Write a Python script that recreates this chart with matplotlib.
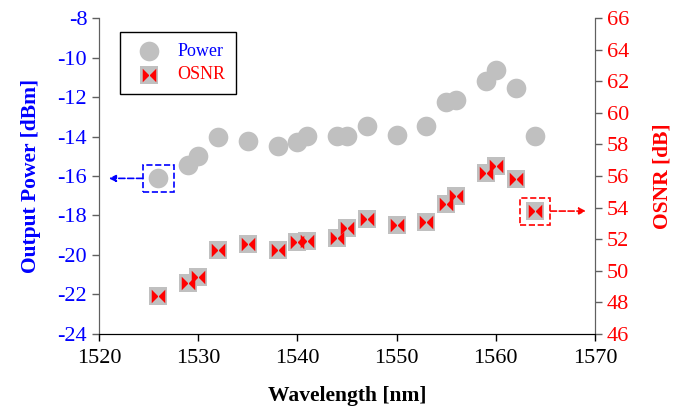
import matplotlib
matplotlib.use("Agg")
import numpy as np
from matplotlib import pyplot as plt
from matplotlib.path import Path
from matplotlib.patches import Rectangle

plt.rcParams["font.family"] = ["Liberation Serif", "DejaVu Serif"]
plt.rcParams["font.size"] = 14
plt.rcParams["axes.unicode_minus"] = False

# data
wavelength = [1526, 1529, 1530, 1532, 1535, 1538, 1540, 1541, 1544, 1545,
              1547, 1550, 1553, 1555, 1556, 1559, 1560, 1562, 1564]
power = [-16.12, -15.44, -14.97, -14.01, -14.21, -14.46, -14.26, -13.97, -13.96, -13.96,
         -13.45, -13.9, -13.47, -12.24, -12.15, -11.17, -10.63, -11.56, -13.96]
osnr = [48.4, 49.25, 49.63, 51.32, 51.68, 51.32, 51.8, 51.89, 52.1, 52.69,
        53.26, 52.9, 53.11, 54.23, 54.75, 56.17, 56.65, 55.81, 53.78]

x_ticks = [1520, 1530, 1540, 1550, 1560, 1570]
power_ticks = list(range(-24, -7, 2))
osnr_ticks = list(range(46, 67, 2))

BLUE = "#0000ff"
RED = "#ff0000"
GRAY = "#c0c0c0"

# bowtie marker: two triangles pointing to the centre
bowtie = Path(
    [(-0.75, -0.75), (0, 0), (-0.75, 0.75), (-0.75, -0.75),
     (0.75, -0.75), (0, 0), (0.75, 0.75), (0.75, -0.75)],
    [Path.MOVETO, Path.LINETO, Path.LINETO, Path.CLOSEPOLY,
     Path.MOVETO, Path.LINETO, Path.LINETO, Path.CLOSEPOLY],
)

fig = plt.figure(figsize=(6.84, 4.13), dpi=100)
ax = fig.add_axes([0.1447, 0.1913, 0.7252, 0.7651])
ax2 = ax.twinx()

ax.scatter(wavelength, power, s=200, marker="o", color=GRAY, lw=0, zorder=3)
ax2.scatter(wavelength, osnr, s=170, marker="s", color=GRAY, lw=0, zorder=3)
ax2.scatter(wavelength, osnr, s=95, marker=bowtie, color=RED, lw=0, zorder=4)

ax.set_xlim(1520, 1570)
ax.set_ylim(-24, -8)
ax2.set_ylim(46, 66)
ax.set_xticks(x_ticks)
ax.set_yticks(power_ticks)
ax2.set_yticks(osnr_ticks)

for a in (ax, ax2):
    a.spines["top"].set_visible(False)
    a.spines["left"].set_color("#606060")
    a.spines["right"].set_color("#606060")
    a.spines["bottom"].set_color("black")
    a.tick_params(direction="out", length=5, width=1)

ax.tick_params(axis="y", colors="#606060", labelcolor=BLUE, labelsize=16)
ax2.tick_params(axis="y", colors="#606060", labelcolor=RED, labelsize=16)
ax.tick_params(axis="x", labelsize=16, pad=6)

ax.set_xlabel("Wavelength [nm]", fontweight="bold", fontsize=15.5, labelpad=13)
ax.set_ylabel("Output Power [dBm]", fontweight="bold", fontsize=15.5, color=BLUE, labelpad=12)
ax2.set_ylabel("OSNR [dB]", fontweight="bold", fontsize=15.5, color=RED, labelpad=17)

# dashed boxes and arrows pointing to the owning axis
bx, by = wavelength[0], power[0]
ax.add_patch(Rectangle((bx - 1.6, by - 0.68), 3.2, 1.36, fill=False,
                       ec=BLUE, ls="--", lw=1.2, zorder=5))
ax.annotate("", xy=(1521.0, by), xytext=(bx - 1.6, by),
            arrowprops=dict(arrowstyle="-|>", color=BLUE, ls="--", lw=1.2,
                            shrinkA=0, shrinkB=0, mutation_scale=10))

rx, ry = wavelength[-1], osnr[-1]
ax2.add_patch(Rectangle((rx - 1.6, ry - 0.85), 3.1, 1.7, fill=False,
                        ec=RED, ls="--", lw=1.2, zorder=5))
ax2.annotate("", xy=(1569.1, ry), xytext=(rx + 1.5, ry),
             arrowprops=dict(arrowstyle="-|>", color=RED, ls="--", lw=1.2,
                             shrinkA=0, shrinkB=0, mutation_scale=10))

# legend
h1 = ax.scatter([], [], s=200, marker="o", color=GRAY, lw=0)
h2a = ax.scatter([], [], s=170, marker="s", color=GRAY, lw=0)
h2b = ax.scatter([], [], s=95, marker=bowtie, color=RED, lw=0)
leg = ax2.legend([h1, (h2a, h2b)], ["Power", "OSNR"], loc="upper left",
                 bbox_to_anchor=(0.042, 0.955), fancybox=False, edgecolor="black",
                 framealpha=1, fontsize=13, handletextpad=0.6, borderpad=0.6,
                 handlelength=2.0, labelspacing=0.35, borderaxespad=0)
leg.get_frame().set_linewidth(1.0)
leg.get_texts()[0].set_color(BLUE)
leg.get_texts()[1].set_color(RED)

fig.savefig("out.png", dpi=100)
